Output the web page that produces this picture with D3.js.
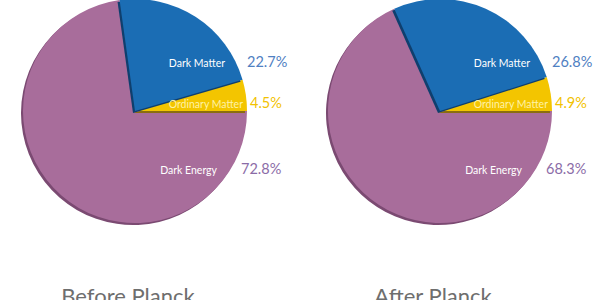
<!DOCTYPE html>
<html>
<head>
<meta charset="utf-8">
<script src="https://cdn.jsdelivr.net/npm/d3@7/dist/d3.min.js"></script>
<style>
  html, body { margin: 0; padding: 0; background: #fff; }
  svg { display: block; }
</style>
</head>
<body>
<div id="chart"></div>
<script>
// Data
const categories = ["Ordinary Matter", "Dark Matter", "Dark Energy"]
const beforeValues = [4.5, 22.7, 72.8]
const afterValues = [4.9, 26.8, 68.3]
const titles = ["Before Planck", "After Planck"]

const W = 600, H = 300
const R = 112
const FONT = "Lato, 'Open Sans', sans-serif"

const FILL = {
  "Ordinary Matter": "#f3c500",
  "Dark Matter":     "#1b6db4",
  "Dark Energy":     "#a86d9b",
}
const SHADE = {
  "Ordinary Matter": "#8a6d10",
  "Dark Matter":     "#0f3f6e",
  "Dark Energy":     "#7b4a72",
}
const NAME_COLOR = {
  "Ordinary Matter": "#fff2a6",
  "Dark Matter":     "#ffffff",
  "Dark Energy":     "#ffffff",
}
const PCT_COLOR = {
  "Ordinary Matter": "#f2c200",
  "Dark Matter":     "#4f80c2",
  "Dark Energy":     "#8b6ca7",
}
// label anchors relative to pie centre: [name right edge, pct left edge, baseline]
const LABEL_POS = {
  "Dark Matter":     [90, 112, -44],
  "Ordinary Matter": [108, 115, -3],
  "Dark Energy":     [82, 106, 63],
}
// draw order so slice-edge shadows fall the right way
const DRAW_ORDER = ["Dark Energy", "Ordinary Matter", "Dark Matter"]

const svg = d3.select("#chart").append("svg")
  .attr("width", W)
  .attr("height", H)

const pie = d3.pie()
  .sort(null)
  .value(d => d.value)
  .startAngle(Math.PI / 2)
  .endAngle(Math.PI / 2 - 2 * Math.PI)

const arc = d3.arc().innerRadius(0).outerRadius(R)

const centres = d3.scalePoint().domain(titles).range([135, 440])

function drawPie(title, values) {
  const cx = centres(title), cy = 111
  const rows = categories.map((c, i) => ({ name: c, value: values[i] }))
  const arcs = pie(rows)
  const byName = {}
  arcs.forEach(a => { byName[a.data.name] = a })

  const g = svg.append("g").attr("transform", `translate(${cx},${cy})`)

  DRAW_ORDER.forEach(name => {
    const a = byName[name]
    g.append("path")
      .attr("d", arc(a))
      .attr("transform", "translate(-2,2)")
      .attr("fill", SHADE[name])
    g.append("path")
      .attr("d", arc(a))
      .attr("fill", FILL[name])
  })

  categories.forEach((name, i) => {
    const [nx, px, by] = LABEL_POS[name]
    g.append("text")
      .attr("x", nx)
      .attr("y", by)
      .attr("text-anchor", "end")
      .attr("fill", NAME_COLOR[name])
      .attr("font-family", FONT)
      .attr("font-size", "10.5px")
      .text(name)
    g.append("text")
      .attr("x", px)
      .attr("y", by)
      .attr("fill", PCT_COLOR[name])
      .attr("font-family", FONT)
      .attr("font-size", "14.5px")
      .text(d3.format(".1f")(values[i]) + "%")
  })

  svg.append("text")
    .attr("x", cx - 7)
    .attr("y", 304)
    .attr("text-anchor", "middle")
    .attr("fill", "#6e6e6e")
    .attr("font-family", FONT)
    .attr("font-size", "22px")
    .text(title)
}

drawPie(titles[0], beforeValues)
drawPie(titles[1], afterValues)
</script>
</body>
</html>
